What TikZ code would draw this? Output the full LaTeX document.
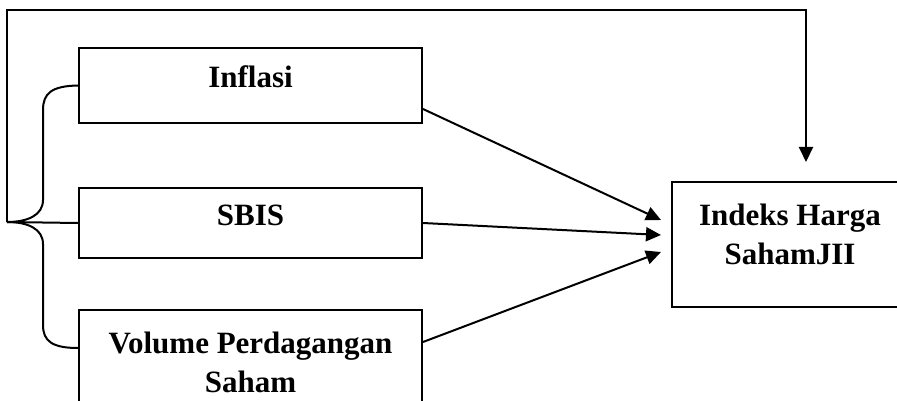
\documentclass[tikz,border=0pt]{standalone}
\usepackage{fontspec}
\setmainfont{Liberation Serif}
\usetikzlibrary{arrows.meta}

\begin{document}
\begin{tikzpicture}[x=1pt, y=-1pt]
            \tikzset{
                var_box/.style={draw, shape = rectangle, line width=2pt, minimum width=343pt, align=center,
                    font=\fontsize{31}{39}\selectfont\bfseries},
                result_box/.style={var_box, minimum width=236pt, minimum height=125pt},
                wire/.style={line width=2pt},
                link/.style={wire, -{Triangle[length=15pt, width=14pt]}}
            }
            \useasboundingbox (0,0) rectangle (897,401);
            \node[var_box, minimum height=75pt, text height=20pt, text depth=15pt] (inflasi) at (250.5,85.5) {Inflasi};
            \node[var_box, minimum height=70pt, text height=20pt, text depth=15pt] (sbis) at (250.5,223) {SBIS};
            \node[var_box, minimum height=104pt] (volume) at (250.5,362) {Volume Perdagangan\\Saham};
            \node[result_box] (jii) at (790,244.5) {Indeks Harga\\SahamJII\rule[-20pt]{0pt}{1pt}};

            \coordinate (root) at (7,222);
            \coordinate (top) at (806,10);

            % brace of the three variables
            \draw[wire] (inflasi.west) .. controls (52,86) and (43,93) .. (43,110) -- (43,200)
                .. controls (43,215) and (28,222) .. (root);
            \draw[wire] (root) .. controls (28,222) and (43,229) .. (43,244) -- (43,325)
                .. controls (43,341) and (52,348) .. ([yshift=14pt]volume.west);
            \draw[wire] (root) -- (sbis.west);

            \path (inflasi.east) ++(0,23.5) coordinate (s1);
            \draw[link] ([yshift=-23.5pt]inflasi.east) -- ([xshift=-10pt, yshift=24.5pt]jii.west);
            \draw[link] (sbis.east) -- ([xshift=-10pt, yshift=9.5pt]jii.west);
            \draw[link] ([yshift=20pt]volume.east) -- ([xshift=-10pt, yshift=-7.5pt]jii.west);
            \draw[link] (root) |- (top) -- ([xshift=16pt, yshift=19pt]jii.north);
        \end{tikzpicture}
\end{document}
